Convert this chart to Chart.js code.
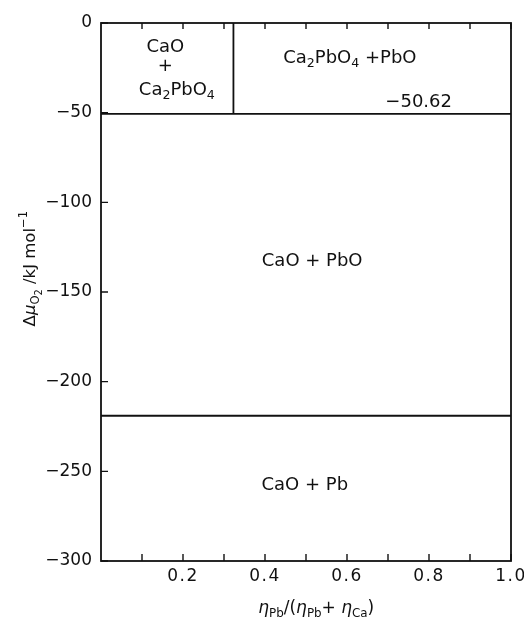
<!DOCTYPE html>
<html>
<head>
<meta charset="utf-8">
<script src="https://cdn.jsdelivr.net/npm/chart.js@4/dist/chart.umd.min.js"></script>
<style>
  html, body { margin: 0; padding: 0; background: #fff; }
  #wrap { width: 524px; height: 621px; }
</style>
</head>
<body>
<div id="wrap"><canvas id="chart"></canvas></div>
<script>
// phase boundaries (x = nPb/(nPb+nCa), y = delta mu O2 in kJ/mol)
const xRange = [0, 1.0];
const yRange = [-300, 0];
const boundaryUpper = -50.62;   // Ca2PbO4 + PbO / CaO + PbO
const boundaryLower = -219;     // CaO + PbO / CaO + Pb
const ca2pbo4X = 0.323;         // vertical line, CaO+Ca2PbO4 | Ca2PbO4+PbO
const xTicks = [0.1, 0.2, 0.3, 0.4, 0.5, 0.6, 0.7, 0.8, 0.9, 1.0];
const xTickLabels = ['', '0.2', '', '0.4', '', '0.6', '', '0.8', '', '1.0'];
const yTicks = [0, -50, -100, -150, -200, -250, -300];

const FONT = '"DejaVu Sans", "Liberation Sans", sans-serif';
const INK = '#111';

// draw text runs: [text, 'n'|'sub'|'sup'|'sub2', italic]
function drawRuns(ctx, runs, x, y, size, align) {
  const fontFor = (r) => {
    const s = r[1] === 'n' ? size : (r[1] === 'sub2' ? size * 0.6 : size * 0.7);
    return (r[2] ? 'italic ' : '') + s + 'px ' + FONT;
  };
  const offFor = (r) => {
    if (r[1] === 'sub') return size * 0.3;
    if (r[1] === 'sub2') return size * 0.5;
    if (r[1] === 'sup') return -size * 0.4;
    return 0;
  };
  let total = 0;
  runs.forEach(r => { ctx.font = fontFor(r); total += ctx.measureText(r[0]).width; });
  let cx = align === 'center' ? x - total / 2 : (align === 'right' ? x - total : x);
  ctx.textAlign = 'left';
  ctx.textBaseline = 'middle';
  runs.forEach(r => {
    ctx.font = fontFor(r);
    ctx.fillText(r[0], cx, y + offFor(r));
    cx += ctx.measureText(r[0]).width;
  });
}

const decor = {
  id: 'decor',
  afterDraw(chart) {
    const { ctx, chartArea: a, scales: { x, y } } = chart;
    ctx.save();
    ctx.strokeStyle = INK;
    ctx.fillStyle = INK;
    ctx.lineWidth = 1.8;
    // frame
    ctx.strokeRect(a.left, a.top, a.right - a.left, a.bottom - a.top);
    // inward ticks
    ctx.lineWidth = 1.4;
    ctx.beginPath();
    xTicks.forEach(v => {
      const px = x.getPixelForValue(v);
      ctx.moveTo(px, a.bottom); ctx.lineTo(px, a.bottom - 7);
      ctx.moveTo(px, a.top); ctx.lineTo(px, a.top + 6);
    });
    yTicks.forEach(v => {
      const py = y.getPixelForValue(v);
      ctx.moveTo(a.left, py); ctx.lineTo(a.left + 7, py);
    });
    ctx.stroke();

    // tick labels
    ctx.font = '17px ' + FONT;
    ctx.textBaseline = 'middle';
    ctx.textAlign = 'right';
    yTicks.forEach(v => {
      const s = v === 0 ? '0' : '\u2212' + Math.abs(v);
      ctx.fillText(s, a.left - 9, y.getPixelForValue(v));
    });
    ctx.textAlign = 'center';
    ctx.textBaseline = 'top';
    ctx.letterSpacing = '1.5px';
    xTicks.forEach((v, i) => {
      if (xTickLabels[i]) ctx.fillText(xTickLabels[i], x.getPixelForValue(v), a.bottom + 7);
    });
    ctx.letterSpacing = '0px';

    // region labels
    const X = (v) => x.getPixelForValue(v);
    const Y = (v) => y.getPixelForValue(v);
    const fs = 18;
    drawRuns(ctx, [['CaO', 'n']], X(0.157), Y(-13.5), fs, 'center');
    drawRuns(ctx, [['+', 'n']], X(0.157), Y(-24), fs, 'center');
    drawRuns(ctx, [['Ca', 'n'], ['2', 'sub'], ['PbO', 'n'], ['4', 'sub']], X(0.185), Y(-37.5), fs, 'center');
    drawRuns(ctx, [['Ca', 'n'], ['2', 'sub'], ['PbO', 'n'], ['4', 'sub'], [' +PbO', 'n']], X(0.607), Y(-19.5), fs, 'center');
    drawRuns(ctx, [['\u221250.62', 'n']], X(0.856), Y(-44.5), fs, 'right');
    drawRuns(ctx, [['CaO + PbO', 'n']], X(0.515), Y(-133), fs, 'center');
    drawRuns(ctx, [['CaO + Pb', 'n']], X(0.497), Y(-258), fs, 'center');

    // x axis title
    drawRuns(ctx, [['\u03b7', 'n', true], ['Pb', 'sub'], ['/(', 'n'], ['\u03b7', 'n', true], ['Pb', 'sub'],
      ['+ ', 'n'], ['\u03b7', 'n', true], ['Ca', 'sub'], [')', 'n']], X(0.525), a.bottom + 48, 17, 'center');

    // y axis title (rotated)
    ctx.translate(31, Y(-137));
    ctx.rotate(-Math.PI / 2);
    drawRuns(ctx, [['\u0394', 'n'], ['\u03bc', 'n', true], ['O', 'sub'], ['2', 'sub2'], [' /kJ mol', 'n'], ['\u22121', 'sup']],
      0, 0, 16.5, 'center');
    ctx.restore();
  }
};

const lineStyle = { showLine: true, borderColor: INK, borderWidth: 1.8, pointRadius: 0, fill: false };

new Chart(document.getElementById('chart'), {
  type: 'scatter',
  data: {
    datasets: [
      { ...lineStyle, data: [{ x: xRange[0], y: boundaryUpper }, { x: xRange[1], y: boundaryUpper }] },
      { ...lineStyle, data: [{ x: xRange[0], y: boundaryLower }, { x: xRange[1], y: boundaryLower }] },
      { ...lineStyle, data: [{ x: ca2pbo4X, y: boundaryUpper }, { x: ca2pbo4X, y: yRange[1] }] },
    ],
  },
  options: {
    responsive: true,
    maintainAspectRatio: false,
    animation: false,
    layout: { padding: { top: 23, right: 13, left: 0, bottom: 0 } },
    plugins: { legend: { display: false }, tooltip: { enabled: false } },
    scales: {
      x: {
        type: 'linear', min: xRange[0], max: xRange[1],
        grid: { display: false, drawTicks: false },
        border: { display: false },
        ticks: { display: false },
        afterFit: (s) => { s.height = 60; },
      },
      y: {
        type: 'linear', min: yRange[0], max: yRange[1],
        grid: { display: false, drawTicks: false },
        border: { display: false },
        ticks: { display: false },
        afterFit: (s) => { s.width = 101; },
      },
    },
  },
  plugins: [decor],
});
</script>
</body>
</html>
